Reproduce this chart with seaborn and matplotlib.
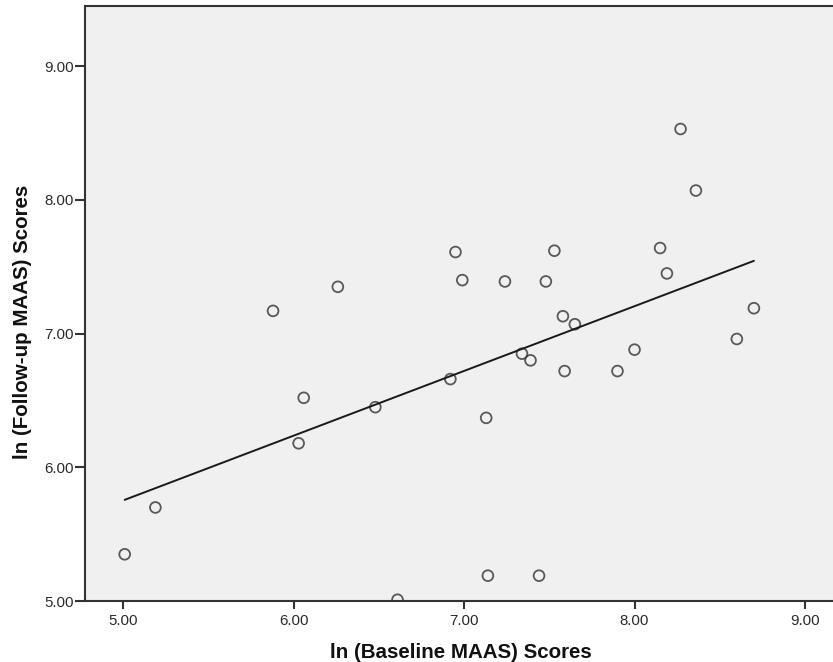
import matplotlib
matplotlib.use("Agg")
import matplotlib.pyplot as plt
import seaborn as sns
import pandas as pd

# ln-transformed MAAS scores per participant
baseline = [5.01, 5.19, 5.88, 6.03, 6.06, 6.26, 6.48, 6.61, 6.92, 6.95,
            6.99, 7.13, 7.14, 7.24, 7.34, 7.39, 7.44, 7.48, 7.53, 7.58,
            7.59, 7.65, 7.90, 8.00, 8.15, 8.19, 8.27, 8.36, 8.60, 8.70]
follow_up = [5.35, 5.70, 7.17, 6.18, 6.52, 7.35, 6.45, 5.01, 6.66, 7.61,
             7.40, 6.37, 5.19, 7.39, 6.85, 6.80, 5.19, 7.39, 7.62, 7.13,
             6.72, 7.07, 6.72, 6.88, 7.64, 7.45, 8.53, 8.07, 6.96, 7.19]
ticks = [5.0, 6.0, 7.0, 8.0, 9.0]
tick_labels = ["5.00", "6.00", "7.00", "8.00", "9.00"]

df = pd.DataFrame({"baseline": baseline, "follow_up": follow_up})

sns.set_style("white")
plt.rcParams["font.family"] = ["Liberation Sans", "DejaVu Sans"]

fig = plt.figure(figsize=(8.33, 6.62), dpi=100)
ax = fig.add_axes([0.102, 0.092, 0.898, 0.899])
ax.set_facecolor("#f0f0f0")

sns.regplot(data=df, x="baseline", y="follow_up", ax=ax, ci=None, truncate=True,
            scatter_kws=dict(s=60, facecolors="none", edgecolors="#333333",
                             linewidths=1.3),
            line_kws=dict(color="#1a1a1a", linewidth=1.4))

ax.set_xlim(4.777, 9.164)
ax.set_ylim(5.0, 9.45)
ax.set_xticks(ticks)
ax.set_xticklabels(tick_labels)
ax.set_yticks(ticks)
ax.set_yticklabels(tick_labels)
ax.tick_params(axis="both", direction="out", width=1.5, color="#333333",
               labelsize=10.8, labelcolor="#2a2a2a", bottom=True, left=True)
ax.tick_params(axis="x", length=6, pad=3)
ax.tick_params(axis="y", length=7, pad=1)

for side in ("left", "bottom", "top"):
    ax.spines[side].set_color("#333333")
    ax.spines[side].set_linewidth(1.5)
ax.spines["right"].set_visible(False)

ax.set_xlabel("ln (Baseline MAAS) Scores", fontsize=14.8, fontweight="bold",
              color="#111111", va="center")
ax.set_ylabel("ln (Follow-up MAAS) Scores", fontsize=14.8, fontweight="bold",
              color="#111111", va="center")
ax.xaxis.set_label_coords(0.503, -0.086)
ax.yaxis.set_label_coords(-0.084, 0.47)

fig.savefig("out.png", dpi=100)
